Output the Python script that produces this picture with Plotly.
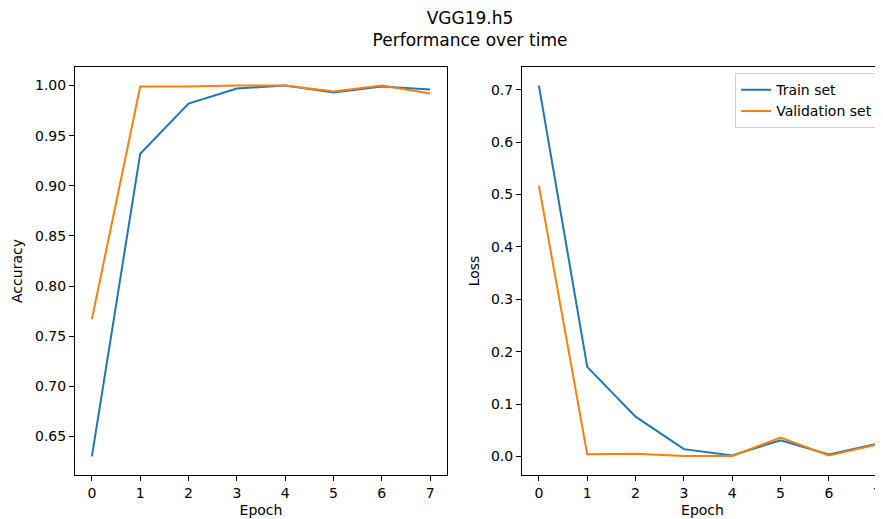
import plotly.graph_objects as go
from plotly.subplots import make_subplots

BLUE = "#1f77b4"
ORANGE = "#ff7f0e"
FONT = "DejaVu Sans, Liberation Sans, sans-serif"

epochs = [0, 1, 2, 3, 4, 5, 6, 7]
train_acc = [0.630, 0.932, 0.982, 0.997, 1.000, 0.993, 0.999, 0.996]
val_acc = [0.767, 0.999, 0.999, 1.000, 1.000, 0.994, 1.000, 0.992]
train_loss = [0.708, 0.171, 0.076, 0.014, 0.002, 0.031, 0.004, 0.024]
val_loss = [0.517, 0.004, 0.005, 0.001, 0.001, 0.036, 0.002, 0.023]

acc_ticks = [0.65, 0.70, 0.75, 0.80, 0.85, 0.90, 0.95, 1.00]
acc_ticktext = ["0.65", "0.70", "0.75", "0.80", "0.85", "0.90", "0.95", "1.00"]
loss_ticks = [0.0, 0.1, 0.2, 0.3, 0.4, 0.5, 0.6, 0.7]
loss_ticktext = ["0.0", "0.1", "0.2", "0.3", "0.4", "0.5", "0.6", "0.7"]

# the page body adds an 8px offset, so the figure is 8px smaller than the window
fig = make_subplots(rows=1, cols=2)

fig.add_trace(go.Scatter(x=epochs, y=train_acc, mode="lines", name="Train set",
                         line=dict(color=BLUE, width=2), showlegend=False), row=1, col=1)
fig.add_trace(go.Scatter(x=epochs, y=val_acc, mode="lines", name="Validation set",
                         line=dict(color=ORANGE, width=2), showlegend=False), row=1, col=1)
fig.add_trace(go.Scatter(x=epochs, y=train_loss, mode="lines", name="Train set",
                         line=dict(color=BLUE, width=2)), row=1, col=2)
fig.add_trace(go.Scatter(x=epochs, y=val_loss, mode="lines", name="Validation set",
                         line=dict(color=ORANGE, width=2)), row=1, col=2)

label_font = dict(size=14, color="black", family=FONT)
axis_common = dict(
    showgrid=False, zeroline=False, showline=True, linecolor="black", linewidth=1,
    ticks="outside", ticklen=5, tickwidth=1, tickcolor="black",
    tickfont=label_font, automargin=False,
)

fig.update_xaxes(**axis_common, tickvals=epochs, mirror=True,
                 title=dict(text="Epoch", font=label_font, standoff=5))
fig.update_xaxes(domain=[0, 0.4604], range=[-0.35, 7.35], row=1, col=1)
fig.update_xaxes(domain=[0.5532, 1], range=[-0.35, 7.12], row=1, col=2)

fig.update_yaxes(**axis_common)
fig.update_yaxes(range=[0.6115, 1.0185], tickvals=acc_ticks, ticktext=acc_ticktext, mirror=True,
                 title=dict(text="Accuracy", font=label_font, standoff=9),
                 row=1, col=1)
fig.update_yaxes(range=[-0.0354, 0.7434], tickvals=loss_ticks, ticktext=loss_ticktext, mirror=False,
                 title=dict(text="Loss", font=label_font, standoff=8),
                 row=1, col=2)

fig.update_layout(
    width=875, height=511,
    margin=dict(l=67, r=0, t=59, b=44),
    paper_bgcolor="white", plot_bgcolor="white",
    font=dict(family=FONT, color="black"),
    title=dict(text="VGG19.h5<br>Performance over time", x=462 / 875, xanchor="center",
               y=0.968, yanchor="top", font=dict(size=17, color="black", family=FONT)),
    legend=dict(x=0.817, y=0.985, xanchor="left", yanchor="top",
                bgcolor="rgba(255,255,255,0.8)", bordercolor="#d0d0d0", borderwidth=1,
                font=label_font, tracegroupgap=0),
)

fig.write_html("out.html")
